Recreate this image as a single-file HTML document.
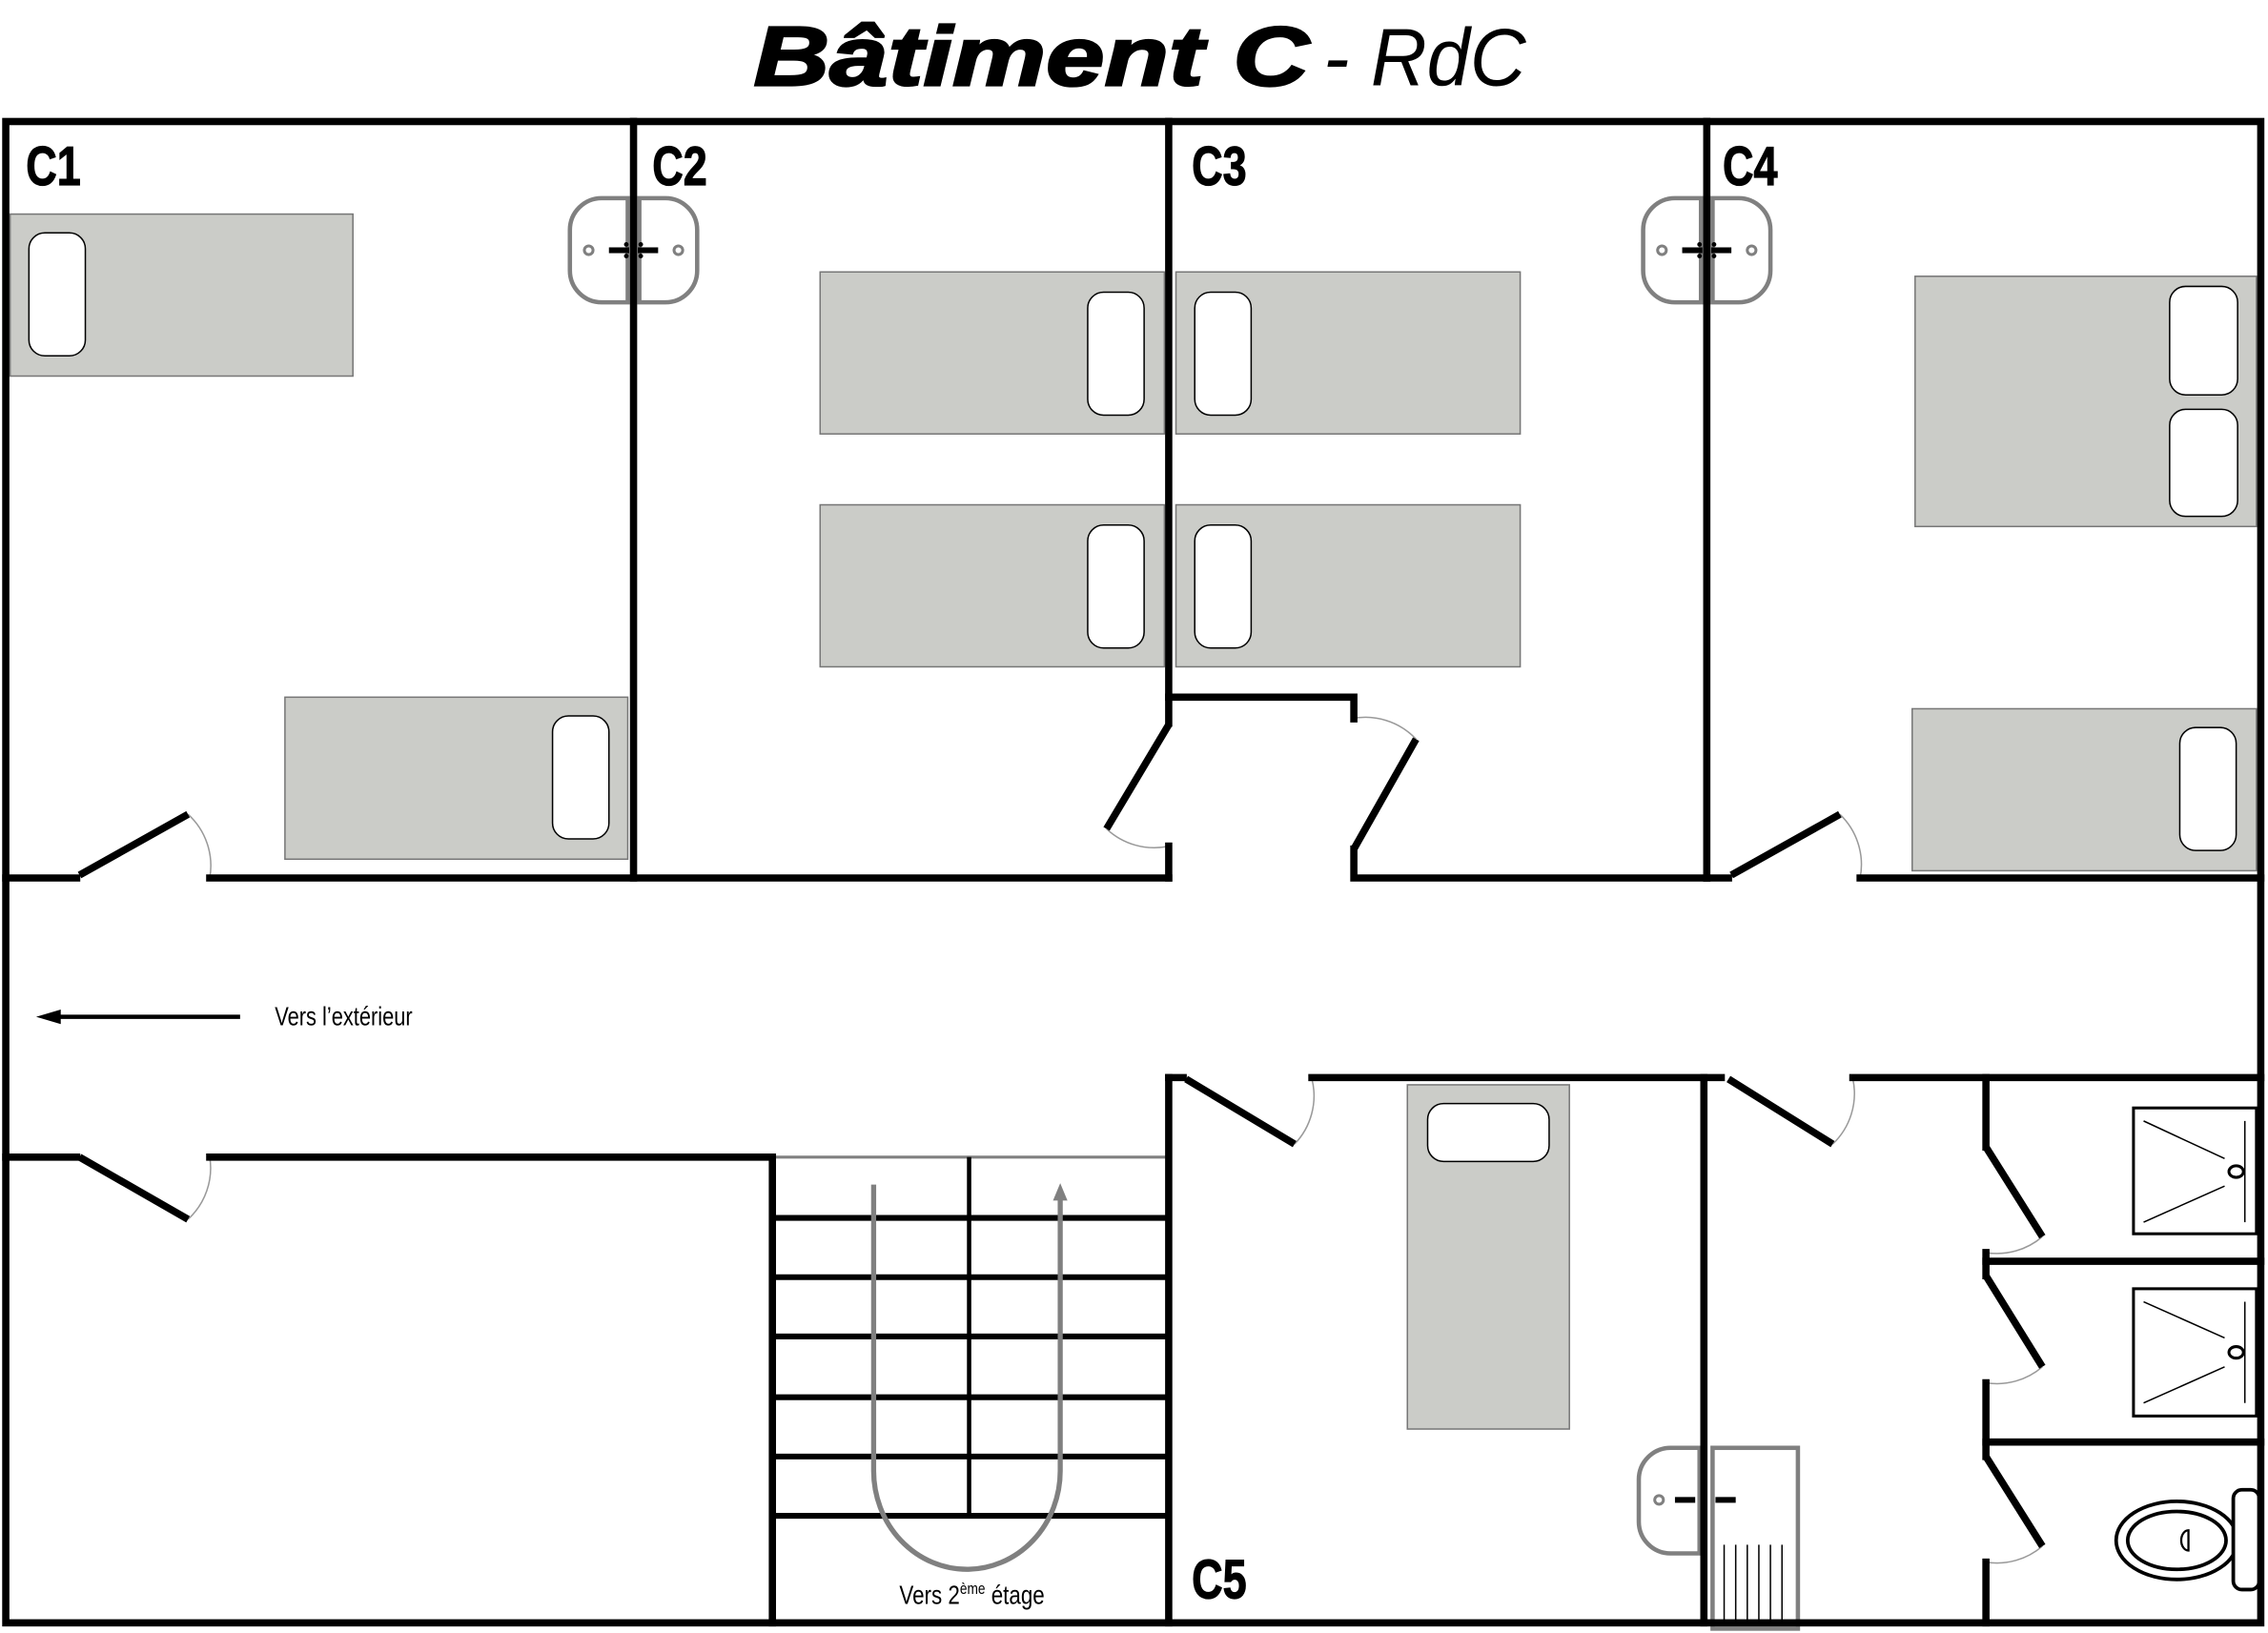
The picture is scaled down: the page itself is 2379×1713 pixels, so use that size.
<!DOCTYPE html>
<html><head><meta charset="utf-8"><style>
html,body{margin:0;padding:0;background:#fff;}
svg{display:block;}
text{font-family:"Liberation Sans",sans-serif;}
</style></head><body>
<svg width="2379" height="1713" viewBox="0 0 1568 1129" xmlns="http://www.w3.org/2000/svg">
<defs>
<g id="sink">
 <path d="M-4,-36 H-22 A22,22 0 0 0 -44,-14 V14 A22,22 0 0 0 -22,36 H-4 Z" fill="#fff" stroke="#808080" stroke-width="3"/>
 <path d="M4,-36 H22 A22,22 0 0 1 44,-14 V14 A22,22 0 0 1 22,36 H4 Z" fill="#fff" stroke="#808080" stroke-width="3"/>
 <circle cx="-31" cy="0" r="3" fill="none" stroke="#808080" stroke-width="2"/>
 <circle cx="31" cy="0" r="3" fill="none" stroke="#808080" stroke-width="2"/>
 <rect x="-17" y="-2" width="14" height="4" fill="#000"/>
 <rect x="3" y="-2" width="14" height="4" fill="#000"/>
 <circle cx="-5" cy="-4" r="1.6" fill="#000"/><circle cx="-5" cy="4" r="1.6" fill="#000"/>
 <circle cx="5" cy="-4" r="1.6" fill="#000"/><circle cx="5" cy="4" r="1.6" fill="#000"/>
</g>
</defs>

<text x="521" y="59" font-size="58" font-weight="bold" font-style="italic" textLength="384" lengthAdjust="spacingAndGlyphs" stroke="#000" stroke-width="1.5">Bâtiment C</text>
<text x="915" y="59" font-size="56" font-style="italic" textLength="140" lengthAdjust="spacingAndGlyphs">- RdC</text>

<!-- beds -->
<g fill="#cbccc8" stroke="#777" stroke-width="1">
 <rect x="7" y="148" width="237" height="112"/>
 <rect x="197" y="482" width="237" height="112"/>
 <rect x="567" y="188" width="238" height="112"/>
 <rect x="567" y="349" width="238" height="112"/>
 <rect x="813" y="188" width="238" height="112"/>
 <rect x="813" y="349" width="238" height="112"/>
 <rect x="1324" y="191" width="236" height="173"/>
 <rect x="1322" y="490" width="238" height="112"/>
 <rect x="973" y="750" width="112" height="238"/>
</g>
<g fill="#fff" stroke="#000" stroke-width="1">
 <rect x="20" y="161" width="39" height="85" rx="11"/>
 <rect x="382" y="495" width="39" height="85" rx="11"/>
 <rect x="752" y="202" width="39" height="85" rx="11"/>
 <rect x="752" y="363" width="39" height="85" rx="11"/>
 <rect x="826" y="202" width="39" height="85" rx="11"/>
 <rect x="826" y="363" width="39" height="85" rx="11"/>
 <rect x="1500" y="198" width="47" height="75" rx="11"/>
 <rect x="1500" y="283" width="47" height="74" rx="11"/>
 <rect x="1507" y="503" width="39" height="85" rx="11"/>
 <rect x="987" y="763" width="84" height="40" rx="11"/>
</g>

<!-- sinks -->
<use href="#sink" x="438" y="173"/>
<use href="#sink" x="1180" y="173"/>
<g>
 <path d="M1175,1001 H1155 A22,22 0 0 0 1133,1023 V1052 A22,22 0 0 0 1155,1074 H1175 Z" fill="#fff" stroke="#808080" stroke-width="3"/>
 <circle cx="1147" cy="1037" r="3" fill="none" stroke="#808080" stroke-width="2"/>
 <circle cx="1220" cy="1037" r="3" fill="none" stroke="#808080" stroke-width="2"/>
 <rect x="1184" y="1001" width="59" height="125" fill="#fff" stroke="#808080" stroke-width="3"/>
 <g stroke="#000" stroke-width="1"><line x1="1192" y1="1068" x2="1192" y2="1120"/><line x1="1200" y1="1068" x2="1200" y2="1120"/><line x1="1208" y1="1068" x2="1208" y2="1120"/><line x1="1216" y1="1068" x2="1216" y2="1120"/><line x1="1224" y1="1068" x2="1224" y2="1120"/><line x1="1232" y1="1068" x2="1232" y2="1120"/></g>
 <rect x="1158" y="1035" width="14" height="4" fill="#000"/>
 <rect x="1186" y="1035" width="14" height="4" fill="#000"/>
</g>

<!-- showers -->
<g fill="#fff" stroke="#000">
 <rect x="1475" y="766" width="85" height="87" stroke-width="2"/>
 <rect x="1475" y="891" width="85" height="88" stroke-width="2"/>
 <g stroke-width="1">
 <line x1="1482" y1="775" x2="1538" y2="801"/><line x1="1482" y1="845" x2="1538" y2="820"/><line x1="1552" y1="775" x2="1552" y2="845"/>
 <line x1="1482" y1="900" x2="1538" y2="925"/><line x1="1482" y1="970" x2="1538" y2="945"/><line x1="1552" y1="900" x2="1552" y2="970"/>
 </g>
 <ellipse cx="1546" cy="810" rx="5" ry="4" stroke-width="2"/>
 <ellipse cx="1546" cy="935" rx="5" ry="4" stroke-width="2"/>
</g>
<!-- toilet -->
<g fill="#fff" stroke="#000" stroke-width="2.5">
 <ellipse cx="1505" cy="1065" rx="42" ry="27"/>
 <ellipse cx="1505" cy="1065" rx="34" ry="20"/>
 <rect x="1544" y="1030" width="18" height="69" rx="6"/>
 <path d="M1513,1058 a5,7 0 0 0 0,14 Z" stroke-width="1.5"/>
</g>

<!-- stairs -->
<line x1="534" y1="800" x2="808" y2="800" stroke="#808080" stroke-width="2"/>
<g stroke="#000" stroke-width="4">
 <line x1="534" y1="842" x2="808" y2="842"/><line x1="534" y1="883" x2="808" y2="883"/>
 <line x1="534" y1="924" x2="808" y2="924"/><line x1="534" y1="966" x2="808" y2="966"/>
 <line x1="534" y1="1007" x2="808" y2="1007"/><line x1="534" y1="1048" x2="808" y2="1048"/>
 <line x1="670" y1="800" x2="670" y2="1048" stroke-width="3"/>
</g>
<path d="M604,819 V1017 A64.5,68 0 0 0 733,1017 V826" fill="none" stroke="#808080" stroke-width="3.5"/>
<path d="M728,830 L733,818 L738,830 Z" fill="#808080"/>
<text x="672" y="1109" text-anchor="middle" font-size="18" transform="translate(672 0) scale(0.82 1) translate(-672 0)">Vers 2<tspan font-size="11" dy="-7">ème</tspan><tspan dy="7"> étage</tspan></text>

<!-- corridor arrow -->
<line x1="38" y1="703" x2="166" y2="703" stroke="#000" stroke-width="3"/>
<path d="M25,703 L42,698 L42,708 Z" fill="#000"/>
<text x="190" y="709" font-size="18" transform="translate(190 0) scale(0.8 1) translate(-190 0)">Vers l’extérieur</text>

<!-- door arcs -->
<g fill="none" stroke="#999" stroke-width="1">
 <path d="M130,563 A48,48 0 0 1 145,607"/>
 <path d="M130,843 A48,48 0 0 0 145,800"/>
 <path d="M765,573 A48,48 0 0 0 808,585"/>
 <path d="M934,497 A48,48 0 0 1 979,511"/>
 <path d="M1272,563 A48,48 0 0 1 1286,607"/>
 <path d="M895,791 A48,48 0 0 0 907,746"/>
 <path d="M1267,791 A48,48 0 0 0 1281,746"/>
 <path d="M1412,855 A48,48 0 0 1 1373,866"/>
 <path d="M1412,945 A48,48 0 0 1 1373,956"/>
 <path d="M1412,1069 A48,48 0 0 1 1373,1080"/>
</g>

<!-- walls -->
<g fill="none" stroke="#000" stroke-width="5" stroke-linecap="square">
 <rect x="4" y="84" width="1559" height="1038"/>
 <line x1="438" y1="84" x2="438" y2="607"/>
 <line x1="808" y1="84" x2="808" y2="500"/>
 <line x1="1180" y1="84" x2="1180" y2="607"/>
 <line x1="4" y1="607" x2="53" y2="607"/>
 <line x1="55" y1="605" x2="130" y2="563" stroke-linecap="butt"/>
 <line x1="145" y1="607" x2="808" y2="607"/>
 <line x1="808" y1="585" x2="808" y2="607"/>
 <line x1="808" y1="501" x2="765" y2="573" stroke-linecap="butt"/>
 <polyline points="808,482 936,482 936,497"/>
 <line x1="979" y1="511" x2="936" y2="587" stroke-linecap="butt"/>
 <polyline points="936,587 936,607 1180,607"/>
 <line x1="1180" y1="607" x2="1195" y2="607"/>
 <line x1="1197" y1="605" x2="1272" y2="563" stroke-linecap="butt"/>
 <line x1="1286" y1="607" x2="1563" y2="607"/>
 <line x1="4" y1="800" x2="53" y2="800"/>
 <line x1="55" y1="800" x2="130" y2="843" stroke-linecap="butt"/>
 <line x1="145" y1="800" x2="532" y2="800"/>
 <line x1="534" y1="800" x2="534" y2="1122"/>
 <line x1="808" y1="745" x2="808" y2="1122"/>
 <line x1="808" y1="745" x2="818" y2="745"/>
 <line x1="820" y1="746" x2="895" y2="791" stroke-linecap="butt"/>
 <line x1="907" y1="745" x2="1190" y2="745"/>
 <line x1="1178" y1="745" x2="1178" y2="1122"/>
 <line x1="1195" y1="746" x2="1267" y2="791" stroke-linecap="butt"/>
 <line x1="1281" y1="745" x2="1563" y2="745"/>
 <line x1="1373" y1="745" x2="1373" y2="793"/>
 <line x1="1373" y1="793" x2="1412" y2="855" stroke-linecap="butt"/>
 <line x1="1373" y1="866" x2="1373" y2="882"/>
 <line x1="1373" y1="872" x2="1563" y2="872"/>
 <line x1="1373" y1="882" x2="1412" y2="945" stroke-linecap="butt"/>
 <line x1="1373" y1="956" x2="1373" y2="1007"/>
 <line x1="1373" y1="997" x2="1563" y2="997"/>
 <line x1="1373" y1="1007" x2="1412" y2="1069" stroke-linecap="butt"/>
 <line x1="1373" y1="1080" x2="1373" y2="1122"/>
</g>

<!-- labels -->
<g font-weight="bold" font-size="38" stroke="#000" stroke-width="0.8">
 <text x="18" y="128" transform="translate(18 0) scale(0.78 1) translate(-18 0)">C1</text>
 <text x="451" y="128" transform="translate(451 0) scale(0.78 1) translate(-451 0)">C2</text>
 <text x="824" y="128" transform="translate(824 0) scale(0.78 1) translate(-824 0)">C3</text>
 <text x="1191" y="128" transform="translate(1191 0) scale(0.78 1) translate(-1191 0)">C4</text>
 <text x="824" y="1105" transform="translate(824 0) scale(0.78 1) translate(-824 0)">C5</text>
</g>
</svg>
</body></html>
